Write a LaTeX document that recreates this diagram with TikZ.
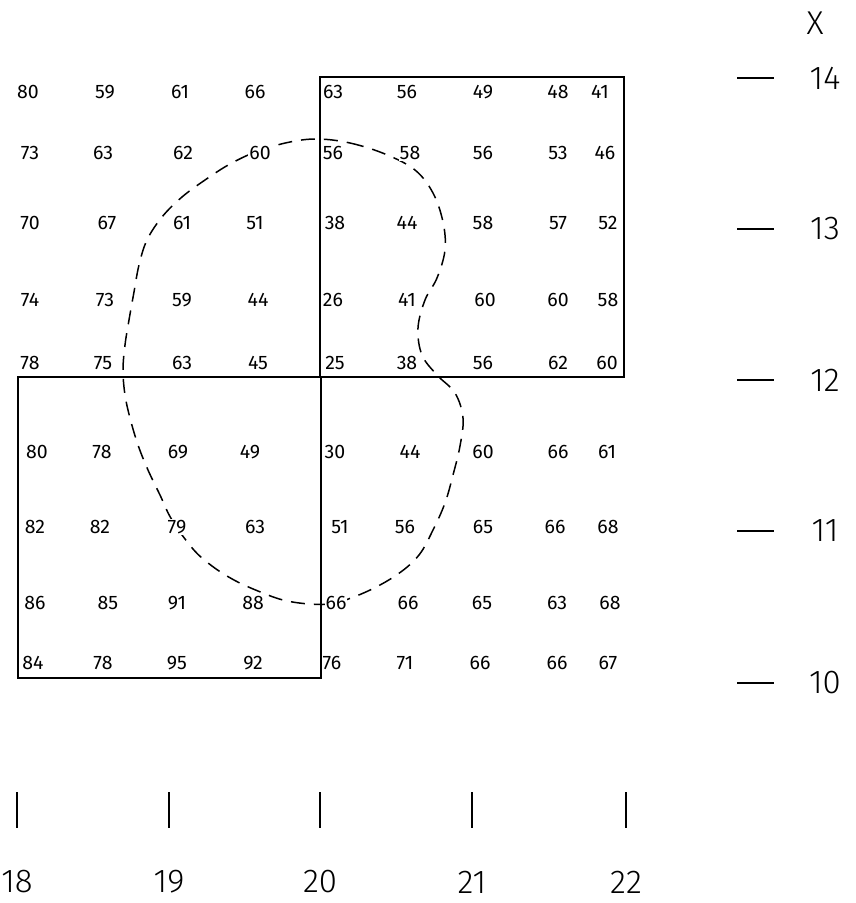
\documentclass[tikz,border=0pt]{standalone}
\usepackage{fontspec}
\setmainfont{Fira Sans}[UprightFont=* Light]
\newfontfamily\numfont{Fira Sans}
\begin{document}
\begin{tikzpicture}[x=1pt,y=-1pt,
  num/.style={font=\numfont\fontsize{19.5}{20}\selectfont, inner sep=1pt, fill=white},
  axlab/.style={font=\fontsize{33}{33}\selectfont, inner sep=0pt},
  ln/.style={line width=1.4pt},
  contour/.style={line width=1.5pt, dash pattern=on 14pt off 9pt}]
\useasboundingbox (0,0) rectangle (856,903);
% dashed contour
\draw[contour] plot[smooth cycle, tension=0.6] coordinates {
 (318,139) (350,143) (385,154) (415,170) (433,193) (443,222) (445,250)
 (437,278) (425,300) (418,328) (422,355) (437,375) (455,393) (463,418)
 (460,446) (453,475) (445,503) (433,530) (419,555) (398,574) (368,591)
 (335,603) (310,604) (283,600) (258,591) (234,580) (212,566) (193,549)
 (172,520) (160,495) (148,470) (138,445) (130,418) (125,395) (123,370)
 (125,345) (129,320) (134,292) (139,265) (147,240) (162,217) (182,197)
 (205,180) (230,164) (258,151) (290,142)};
% values
\foreach \x/\y/\t [count=\i] in {
 28/92/80, 105/92/59, 180/92/61, 255/92/66, 333/92/63, 407/92/56, 483/92/49, 558/92/48, 600/92/41,
 30/153/73, 103/153/63, 183/153/62, 260/153/60, 333/153/56, 410/153/58, 483/153/56, 558/153/53, 605/153/46,
 30/223/70, 107/223/67, 182/223/61, 255/223/51, 335/223/38, 407/223/44, 483/223/58, 558/223/57, 608/223/52,
 30/300/74, 105/300/73, 182/300/59, 258/300/44, 333/300/26, 407/300/41, 485/300/60, 558/300/60, 608/300/58,
 30/363/78, 103/363/75, 182/363/63, 258/363/45, 335/363/25, 407/363/38, 483/363/56, 558/363/62, 607/363/60,
 37/452/80, 102/452/78, 178/452/69, 250/452/49, 335/452/30, 410/452/44, 483/452/60, 558/452/66, 607/452/61,
 35/527/82, 100/527/82, 177/527/79, 255/527/63, 340/527/51, 405/527/56, 483/527/65, 555/527/66, 608/527/68,
 35/603/86, 108/603/85, 177/603/91, 253/603/88, 336/603/66, 408/603/66, 482/603/65, 557/603/63, 610/603/68,
 33/663/84, 103/663/78, 177/663/95, 253/663/92, 332/663/76, 405/663/71, 480/663/66, 557/663/66, 608/663/67}
 \node[num] (v\i) at (\x,\y) {\t};
% squares
\draw[ln] (320,77) rectangle (624,377);
\draw[ln] (18,377) rectangle (321,678);
% right axis
\node[axlab] (xlab) at (815,23) {X};
\foreach \y/\t in {78/14, 229/13, 380/12, 531/11, 683/10}{
  \draw[ln] (737,\y) -- (774,\y);
  \node[axlab] (r\t) at (825,\y) {\t};
}
% bottom axis
\foreach \x/\t in {17/18, 169/19, 320/20, 472/21, 626/22}{
  \draw[ln] (\x,792) -- (\x,828);
  \node[axlab] (b\t) at (\x,882) {\t};
}
\end{tikzpicture}
\end{document}
